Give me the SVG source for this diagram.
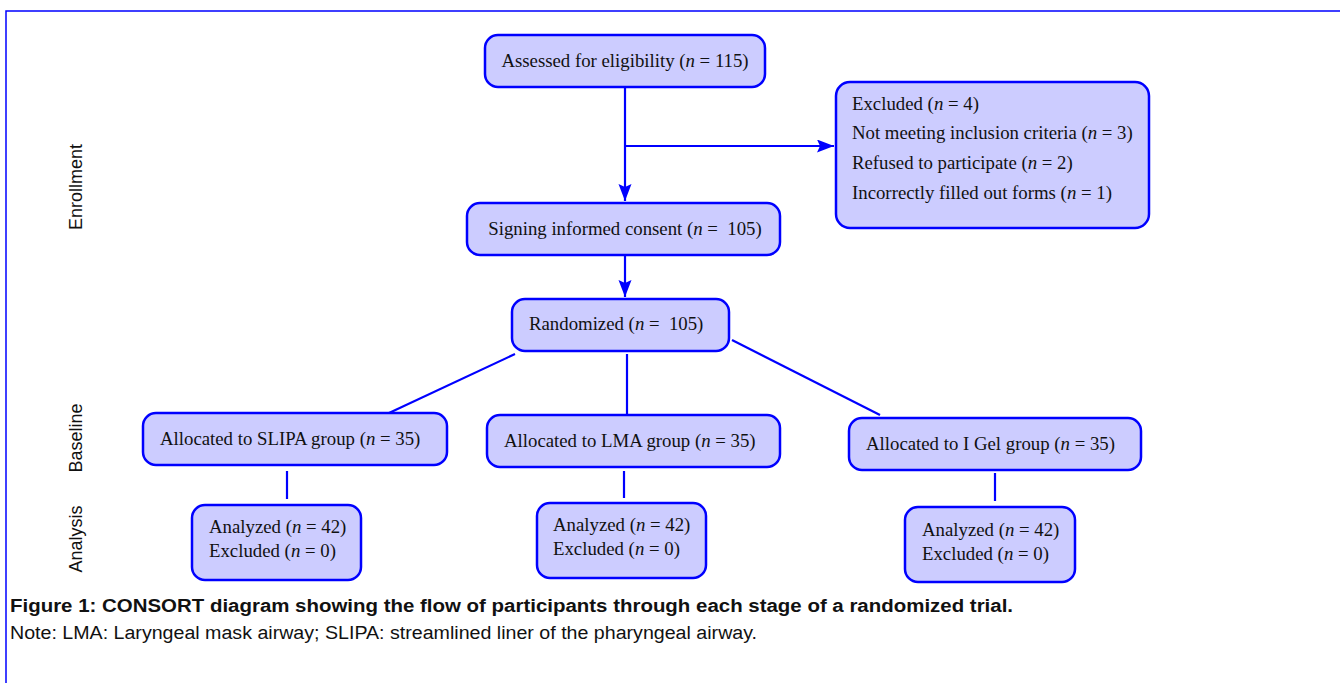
<svg xmlns="http://www.w3.org/2000/svg" width="1340" height="683" viewBox="0 0 1340 683">
<defs>
<marker id="arr" markerUnits="userSpaceOnUse" markerWidth="20" markerHeight="16" refX="17" refY="6.5" orient="auto">
<path d="M0,0 L17,6.5 L0,13 L3,6.5 Z" fill="#0000ff"/>
</marker>
</defs>
<style>
.box{fill:#ccccff;stroke:#0000ff;stroke-width:2.5}
.t{font-family:"Liberation Serif","Times New Roman",serif;font-size:18.8px;fill:#111}
.i{font-style:italic}
.lab{font-family:"Liberation Sans",Arial,sans-serif;font-size:18px;fill:#111}
.ln{stroke:#0000ff;stroke-width:2.2;fill:none}
.cap{font-family:"Liberation Sans",Arial,sans-serif;font-size:18px;fill:#111}
</style>
<rect x="0" y="0" width="1340" height="683" fill="#ffffff"/>
<path d="M6,683 L6,11 L1340,11" fill="none" stroke="#0000ff" stroke-width="1.5"/>
<text class="lab" transform="translate(82,187) rotate(-90)" text-anchor="middle">Enrollment</text>
<text class="lab" transform="translate(82,438) rotate(-90)" text-anchor="middle">Baseline</text>
<text class="lab" transform="translate(82,539) rotate(-90)" text-anchor="middle">Analysis</text>
<g id="connectors">
<line class="ln" x1="625" y1="88" x2="625" y2="201" marker-end="url(#arr)"/>
<line class="ln" x1="625" y1="146" x2="834" y2="146" marker-end="url(#arr)"/>
<line class="ln" x1="625" y1="256" x2="625" y2="297" marker-end="url(#arr)"/>
<line class="ln" x1="515" y1="354" x2="389" y2="413"/>
<line class="ln" x1="627" y1="354" x2="627" y2="415"/>
<line class="ln" x1="732" y1="340" x2="880" y2="415"/>
<line class="ln" x1="287" y1="471" x2="287" y2="499"/>
<line class="ln" x1="624" y1="471" x2="624" y2="498"/>
<line class="ln" x1="995" y1="473" x2="995" y2="501"/>
</g>
<g id="assessed">
<rect class="box" x="485" y="35" width="280" height="52" rx="13"/>
<text class="t" x="625" y="67" text-anchor="middle">Assessed for eligibility (<tspan class="i">n</tspan> = 115)</text>
</g>
<g id="excluded">
<rect class="box" x="836" y="82" width="313" height="146" rx="14"/>
<text class="t" x="852" y="110">Excluded (<tspan class="i">n</tspan> = 4)</text>
<text class="t" x="852" y="139">Not meeting inclusion criteria (<tspan class="i">n</tspan> = 3)</text>
<text class="t" x="852" y="169">Refused to participate (<tspan class="i">n</tspan> = 2)</text>
<text class="t" x="852" y="199">Incorrectly filled out forms (<tspan class="i">n</tspan> = 1)</text>
</g>
<g id="signing">
<rect class="box" x="467" y="203" width="313" height="52" rx="13"/>
<text class="t" x="625" y="235" text-anchor="middle" xml:space="preserve">Signing informed consent (<tspan class="i">n</tspan> =  105)</text>
</g>
<g id="randomized">
<rect class="box" x="512" y="299" width="217" height="52" rx="13"/>
<text class="t" x="529" y="330" xml:space="preserve">Randomized (<tspan class="i">n</tspan> =  105)</text>
</g>
<g id="slipa">
<rect class="box" x="143" y="413" width="304" height="52" rx="13"/>
<text class="t" x="160" y="445">Allocated to SLIPA group (<tspan class="i">n</tspan> = 35)</text>
</g>
<g id="lma">
<rect class="box" x="487" y="415" width="293" height="52" rx="13"/>
<text class="t" x="504" y="447">Allocated to LMA group (<tspan class="i">n</tspan> = 35)</text>
</g>
<g id="igel">
<rect class="box" x="849" y="418" width="292" height="52" rx="13"/>
<text class="t" x="866" y="450">Allocated to I Gel group (<tspan class="i">n</tspan> = 35)</text>
</g>
<g id="analysis-slipa">
<rect class="box" x="192" y="505" width="169" height="75" rx="13"/>
<text class="t" x="209" y="533">Analyzed (<tspan class="i">n</tspan> = 42)</text>
<text class="t" x="209" y="557">Excluded (<tspan class="i">n</tspan> = 0)</text>
</g>
<g id="analysis-lma">
<rect class="box" x="537" y="503" width="169" height="75" rx="13"/>
<text class="t" x="553" y="531">Analyzed (<tspan class="i">n</tspan> = 42)</text>
<text class="t" x="553" y="555">Excluded (<tspan class="i">n</tspan> = 0)</text>
</g>
<g id="analysis-igel">
<rect class="box" x="905" y="507" width="170" height="75" rx="13"/>
<text class="t" x="922" y="536">Analyzed (<tspan class="i">n</tspan> = 42)</text>
<text class="t" x="922" y="560">Excluded (<tspan class="i">n</tspan> = 0)</text>
</g>
<text class="cap" x="10" y="612" font-weight="bold" textLength="1003" lengthAdjust="spacingAndGlyphs">Figure 1: CONSORT diagram showing the flow of participants through each stage of a randomized trial.</text>
<text class="cap" x="10" y="639" textLength="747" lengthAdjust="spacingAndGlyphs">Note: LMA: Laryngeal mask airway; SLIPA: streamlined liner of the pharyngeal airway.</text>
</svg>
